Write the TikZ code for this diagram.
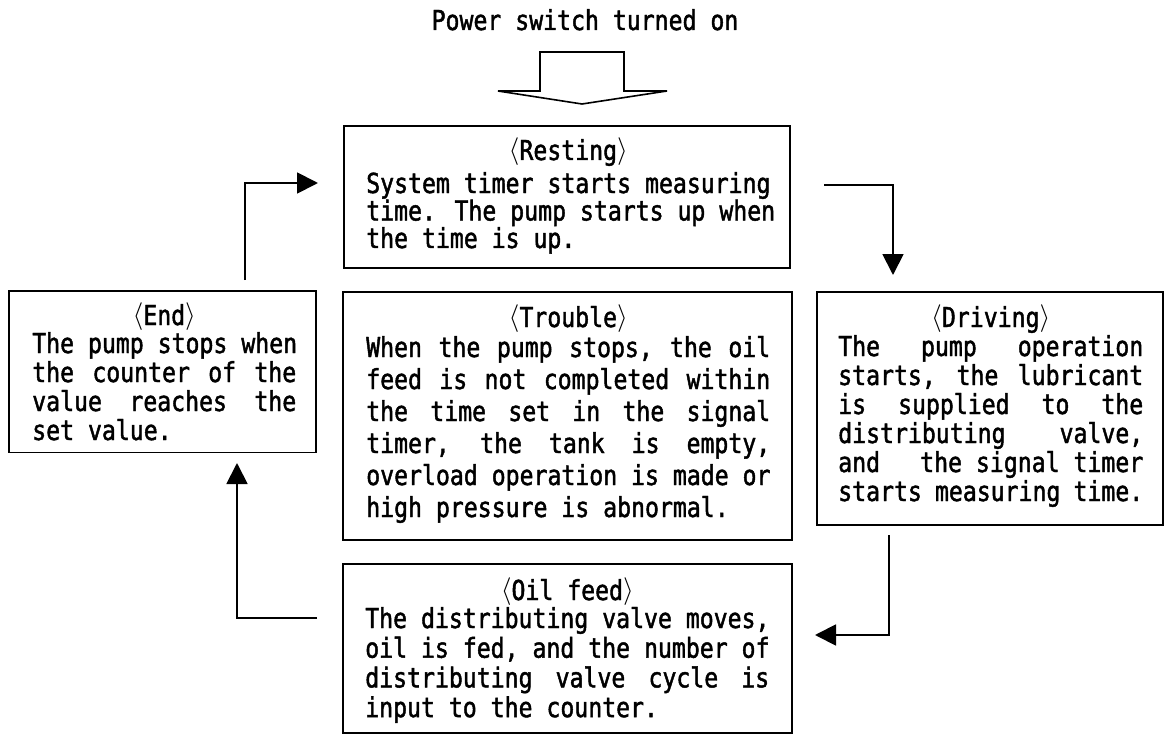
\documentclass[tikz,border=0pt]{standalone}
\usepackage{fontspec}
\usetikzlibrary{arrows.meta}
\newfontfamily\gfont[FakeStretch=0.843, FakeBold=1.6]{DejaVu Sans Mono}
\newdimen\px \px=0.75pt
\newcommand\gtext{\gfont\fontsize{20.6pt}{24pt}\selectfont\lineskiplimit=-\maxdimen\lineskip=0pt\relax}
\newcommand\jl[2]{\hbox to #1\px{\spaceskip=\fontcharwd\font`0 plus 1fil\relax #2}}
\newcommand\lft[2]{\hbox to #1\px{#2\hfil}}
\newcommand\ctr[2]{\hbox to #1\px{\hfil#2\hfil}}
\newcommand\hd[1]{\raisebox{1.5\px}{$\langle$}#1\raisebox{1.5\px}{$\rangle$}}
\tikzset{
  stbox/.style={draw, line width=1.4pt, inner sep=0pt, rectangle},
  txt/.style={inner sep=0pt, anchor=base west, font=\gtext},
  arr/.style={line width=1.4pt, -{Triangle[length=15.75pt, width=15.75pt]}},
  blockarr/.style={line width=1.2pt, line join=miter},
}
\begin{document}
\begin{tikzpicture}[x=0.75pt, y=-0.75pt]
\useasboundingbox (0,0) rectangle (1165,735);

% title
\node[inner sep=0pt, anchor=base, font=\gtext] (power) at (585,30) {Power switch turned on};

% block arrow
\draw[blockarr] (540,52) -- (624,52) -- (624,91) -- (667,91) -- (582,104) -- (498,91) -- (540,91) -- cycle;

% boxes
\node[stbox, minimum width=334.5pt, minimum height=106.5pt] (Rest) at (567,197) {};
\node[stbox, minimum width=230.25pt, minimum height=121.1pt] (End) at (162.5,371.75) {};
\node[stbox, minimum width=336.75pt, minimum height=186pt] (Trouble) at (567.5,416) {};
\node[stbox, minimum width=259.5pt, minimum height=174.75pt] (Drive) at (990,408.5) {};
\node[stbox, minimum width=336.75pt, minimum height=126.75pt] (Oil) at (567.5,648.5) {};

% texts
\node[txt] (tRest) at (366,160) {\vtop{\gtext
  \ctr{404}{\hd{Resting}}
  \baselineskip=33\px
  \jl{404}{System timer starts measuring}
  \baselineskip=27.5\px
  \jl{404}{time. The pump starts up when}
  \lft{404}{the time is up.}}};

\node[txt] (tEnd) at (32,325) {\vtop{\gtext
  \ctr{264}{\hd{End}}
  \baselineskip=28\px
  \jl{264}{The pump stops when}
  \baselineskip=29\px
  \jl{264}{the counter of the}
  \jl{264}{value reaches the}
  \lft{264}{set value.}}};

\node[txt] (tTrouble) at (366,327) {\vtop{\gtext
  \ctr{404}{\hd{Trouble}}
  \baselineskip=30\px
  \jl{404}{When the pump stops, the oil}
  \baselineskip=32\px
  \jl{404}{feed is not completed within}
  \jl{404}{the time set in the signal}
  \jl{404}{timer, the tank is empty,}
  \jl{404}{overload operation is made or}
  \lft{404}{high pressure is abnormal.}}};

\node[txt] (tDrive) at (838,327) {\vtop{\gtext
  \ctr{305}{\hd{Driving}}
  \baselineskip=29\px
  \jl{305}{The pump operation}
  \jl{305}{starts, the lubricant}
  \jl{305}{is supplied to the}
  \jl{305}{distributing valve,}
  \hbox to 305\px{and\hfil\ the signal timer}
  \lft{305}{starts measuring time.}}};

\node[txt] (tOil) at (365,600) {\vtop{\gtext
  \ctr{404}{\hd{Oil feed}}
  \baselineskip=28\px
  \jl{404}{The distributing valve moves,}
  \baselineskip=29.7\px
  \jl{404}{oil is fed, and the number of}
  \jl{404}{distributing valve cycle is}
  \lft{404}{input to the counter.}}};

% connector end points
\coordinate (e1) at (245,280);
\coordinate (r1) at (318,183);
\coordinate (r2) at (824,185);
\coordinate (d1) at (893,275);
\coordinate (d2) at (889,535);
\coordinate (o1) at (815,635);
\coordinate (o2) at (317,618);
\coordinate (e2) at (237,463);

\draw[arr] (e1) |- (r1);
\draw[arr] (r2) -| (d1);
\draw[arr] (d2) |- (o1);
\draw[arr] (o2) -| (e2);
\end{tikzpicture}
\end{document}
